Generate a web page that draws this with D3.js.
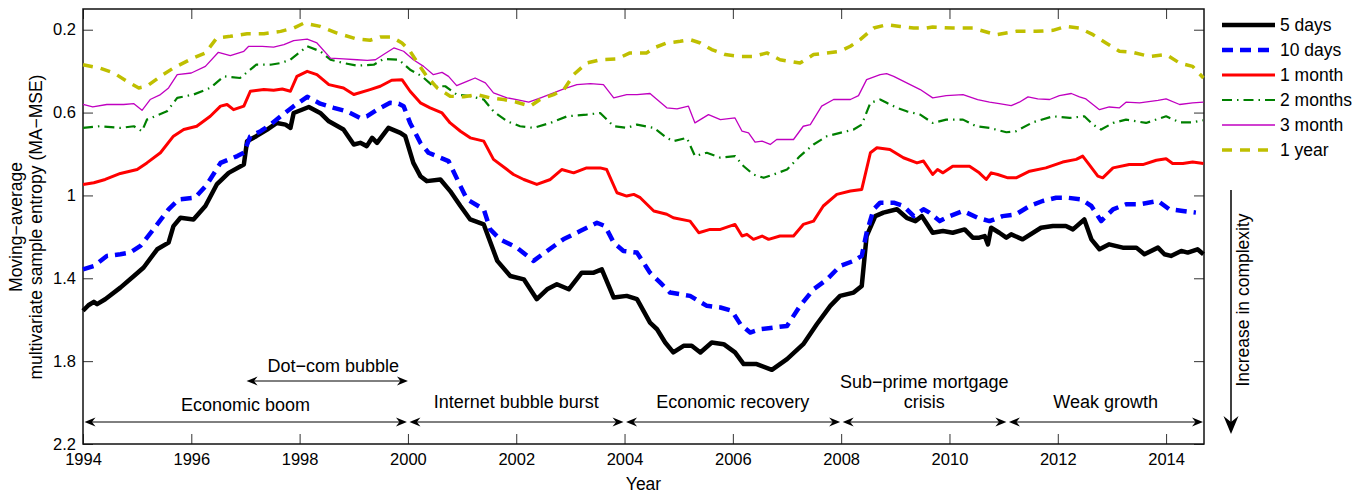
<!DOCTYPE html>
<meta charset="utf-8">
<style>
  body { margin: 0; background: #fff; }
  text { font-family: "Liberation Sans", Arial, sans-serif; fill: #000; }
</style>
<svg width="1369" height="495"></svg>
<script src="https://d3js.org/d3.v7.min.js"></script>
<script>

// [year, MA-MSE]
var fiveDays = [[1994.0,1.557],[1994.1,1.53],[1994.2,1.514],[1994.26,1.525],[1994.41,1.501],[1994.69,1.445],[1994.94,1.389],
  [1995.12,1.348],[1995.37,1.26],[1995.58,1.228],[1995.67,1.148],[1995.8,1.108],[1996.04,1.116],[1996.26,1.051],
  [1996.47,0.947],[1996.69,0.891],[1996.97,0.851],[1997.03,0.738],[1997.2,0.714],[1997.4,0.682],[1997.58,0.65],
  [1997.74,0.658],[1997.83,0.674],[1997.89,0.602],[1998.17,0.573],[1998.38,0.602],[1998.54,0.642],[1998.81,0.682],
  [1999.0,0.754],[1999.12,0.746],[1999.24,0.762],[1999.34,0.722],[1999.43,0.746],[1999.64,0.674],[1999.86,0.698],
  [1999.95,0.714],[2000.1,0.843],[2000.23,0.907],[2000.35,0.931],[2000.6,0.923],[2000.78,0.979],[2000.97,1.051],
  [2001.15,1.116],[2001.4,1.14],[2001.65,1.316],[2001.89,1.389],[2002.14,1.405],[2002.38,1.501],[2002.57,1.453],
  [2002.75,1.429],[2002.97,1.453],[2003.21,1.373],[2003.43,1.373],[2003.58,1.357],[2003.8,1.493],[2004.04,1.485],
  [2004.23,1.501],[2004.47,1.614],[2004.6,1.646],[2004.75,1.71],[2004.9,1.758],[2005.09,1.726],[2005.24,1.726],
  [2005.4,1.758],[2005.61,1.71],[2005.83,1.718],[2006.04,1.758],[2006.2,1.814],[2006.44,1.814],[2006.72,1.842],
  [2007.0,1.79],[2007.3,1.718],[2007.55,1.622],[2007.8,1.533],[2007.98,1.485],[2008.23,1.469],[2008.38,1.437],
  [2008.47,1.196],[2008.63,1.1],[2008.78,1.083],[2009.03,1.067],[2009.21,1.108],[2009.37,1.124],[2009.49,1.1],
  [2009.57,1.132],[2009.69,1.18],[2009.88,1.172],[2010.06,1.18],[2010.28,1.164],[2010.43,1.204],[2010.55,1.204],
  [2010.65,1.196],[2010.71,1.236],[2010.77,1.156],[2010.92,1.18],[2011.05,1.204],[2011.14,1.188],[2011.35,1.212],
  [2011.69,1.156],[2011.91,1.148],[2012.15,1.148],[2012.28,1.164],[2012.49,1.116],[2012.62,1.212],[2012.77,1.26],
  [2012.95,1.236],[2013.2,1.252],[2013.45,1.252],[2013.6,1.284],[2013.85,1.252],[2013.97,1.284],[2014.09,1.292],
  [2014.28,1.268],[2014.4,1.276],[2014.58,1.26],[2014.69,1.284]];

var tenDays = [[1994.0,1.357],[1994.2,1.341],[1994.44,1.292],[1994.69,1.284],[1994.87,1.276],[1995.06,1.244],
  [1995.3,1.164],[1995.58,1.067],[1995.77,1.019],[1996.07,1.011],[1996.29,0.947],[1996.54,0.843],[1996.85,0.81],
  [1996.97,0.794],[1997.09,0.714],[1997.28,0.69],[1997.46,0.658],[1997.65,0.618],[1997.89,0.569],[1998.14,0.524],
  [1998.38,0.557],[1998.63,0.577],[1998.87,0.594],[1999.12,0.626],[1999.24,0.618],[1999.43,0.586],[1999.67,0.553],
  [1999.83,0.557],[1999.92,0.569],[2000.04,0.65],[2000.23,0.746],[2000.38,0.794],[2000.6,0.818],[2000.75,0.834],
  [2000.97,0.955],[2001.09,1.019],[2001.4,1.067],[2001.52,1.164],[2001.7,1.212],[2002.01,1.252],[2002.32,1.316],
  [2002.57,1.268],[2002.87,1.212],[2003.18,1.172],[2003.49,1.132],[2003.64,1.148],[2003.8,1.228],[2003.98,1.268],
  [2004.23,1.276],[2004.47,1.373],[2004.66,1.421],[2004.84,1.469],[2005.21,1.485],[2005.52,1.533],[2005.77,1.541],
  [2005.98,1.557],[2006.14,1.622],[2006.32,1.662],[2006.5,1.646],[2006.75,1.638],[2007.0,1.63],[2007.24,1.533],
  [2007.49,1.453],[2007.74,1.405],[2007.98,1.341],[2008.23,1.316],[2008.38,1.292],[2008.47,1.18],[2008.6,1.067],
  [2008.72,1.035],[2008.97,1.035],[2009.15,1.051],[2009.34,1.1],[2009.52,1.067],[2009.63,1.083],[2009.82,1.124],
  [2010.0,1.1],[2010.25,1.075],[2010.52,1.108],[2010.74,1.124],[2010.98,1.1],[2011.23,1.091],[2011.48,1.051],
  [2011.72,1.027],[2011.97,1.011],[2012.18,1.011],[2012.43,1.019],[2012.62,1.051],[2012.8,1.124],[2013.02,1.067],
  [2013.26,1.043],[2013.51,1.043],[2013.85,1.027],[2014.06,1.067],[2014.31,1.075],[2014.55,1.083]];

var oneMonth = [[1994.0,0.947],[1994.2,0.939],[1994.41,0.923],[1994.69,0.894],[1995.0,0.875],[1995.18,0.843],
  [1995.43,0.794],[1995.67,0.714],[1995.86,0.682],[1996.1,0.666],[1996.35,0.618],[1996.54,0.569],[1996.66,0.561],
  [1996.78,0.586],[1996.97,0.569],[1997.09,0.497],[1997.34,0.489],[1997.52,0.492],[1997.68,0.486],[1997.83,0.497],
  [1997.95,0.425],[1998.14,0.401],[1998.32,0.417],[1998.54,0.465],[1998.81,0.481],[1999.0,0.513],[1999.3,0.489],
  [1999.49,0.473],[1999.7,0.444],[1999.89,0.441],[2000.04,0.497],[2000.23,0.553],[2000.41,0.577],[2000.63,0.602],
  [2000.78,0.65],[2000.97,0.69],[2001.15,0.722],[2001.4,0.738],[2001.58,0.826],[2001.83,0.875],[2001.95,0.899],
  [2002.14,0.923],[2002.38,0.947],[2002.63,0.923],[2002.84,0.875],[2003.06,0.891],[2003.3,0.867],[2003.55,0.867],
  [2003.67,0.875],[2003.86,0.987],[2004.04,1.003],[2004.17,0.995],[2004.29,1.011],[2004.54,1.075],[2004.78,1.091],
  [2004.9,1.108],[2005.21,1.124],[2005.37,1.18],[2005.58,1.164],[2005.77,1.164],[2006.04,1.14],[2006.17,1.196],
  [2006.26,1.188],[2006.38,1.212],[2006.54,1.196],[2006.66,1.212],[2006.87,1.196],[2007.12,1.196],[2007.3,1.14],
  [2007.49,1.124],[2007.67,1.051],[2007.92,0.995],[2008.17,0.979],[2008.38,0.971],[2008.54,0.794],[2008.66,0.77],
  [2008.9,0.778],[2009.15,0.818],[2009.4,0.843],[2009.52,0.834],[2009.69,0.899],[2009.78,0.875],[2009.88,0.891],
  [2010.06,0.859],[2010.37,0.859],[2010.55,0.891],[2010.68,0.923],[2010.77,0.891],[2010.89,0.899],[2011.08,0.915],
  [2011.23,0.915],[2011.48,0.883],[2011.78,0.867],[2012.09,0.839],[2012.34,0.826],[2012.46,0.81],[2012.58,0.851],
  [2012.74,0.907],[2012.83,0.915],[2013.02,0.867],[2013.32,0.851],[2013.57,0.851],[2013.82,0.83],[2014.0,0.823],
  [2014.12,0.846],[2014.31,0.846],[2014.49,0.839],[2014.69,0.846]];

var twoMonths = [[1994.0,0.674],[1994.31,0.666],[1994.69,0.674],[1994.94,0.666],[1995.09,0.69],[1995.18,0.634],
  [1995.55,0.594],[1995.74,0.529],[1996.04,0.513],[1996.35,0.481],[1996.6,0.425],[1996.9,0.433],[1997.2,0.369],
  [1997.46,0.369],[1997.65,0.361],[1997.83,0.345],[1998.14,0.28],[1998.38,0.304],[1998.57,0.345],[1998.81,0.361],
  [1999.06,0.373],[1999.37,0.369],[1999.55,0.341],[1999.83,0.345],[2000.04,0.393],[2000.26,0.425],[2000.47,0.473],
  [2000.69,0.473],[2000.9,0.513],[2001.15,0.521],[2001.4,0.537],[2001.58,0.594],[2001.83,0.642],[2002.07,0.666],
  [2002.32,0.674],[2002.63,0.65],[2002.94,0.618],[2003.3,0.61],[2003.55,0.602],[2003.8,0.666],[2004.04,0.674],
  [2004.23,0.658],[2004.54,0.674],[2004.78,0.722],[2004.9,0.738],[2005.15,0.722],[2005.3,0.81],[2005.52,0.794],
  [2005.77,0.818],[2006.04,0.81],[2006.2,0.859],[2006.38,0.899],[2006.57,0.915],[2006.75,0.899],[2007.0,0.875],
  [2007.24,0.81],[2007.49,0.754],[2007.74,0.714],[2007.98,0.698],[2008.23,0.682],[2008.38,0.658],[2008.54,0.553],
  [2008.72,0.537],[2008.84,0.553],[2009.03,0.577],[2009.21,0.594],[2009.46,0.61],[2009.69,0.65],[2009.94,0.634],
  [2010.25,0.634],[2010.49,0.666],[2010.74,0.674],[2011.05,0.695],[2011.23,0.69],[2011.54,0.647],[2011.91,0.618],
  [2012.22,0.626],[2012.49,0.618],[2012.65,0.658],[2012.8,0.682],[2013.02,0.65],[2013.26,0.634],[2013.63,0.65],
  [2014.0,0.618],[2014.25,0.647],[2014.49,0.647],[2014.68,0.637]];

var threeMonth = [[1994.0,0.561],[1994.18,0.573],[1994.44,0.561],[1994.75,0.561],[1994.94,0.557],[1995.09,0.589],
  [1995.24,0.537],[1995.43,0.513],[1995.58,0.481],[1995.74,0.417],[1996.0,0.409],[1996.26,0.377],[1996.5,0.309],
  [1996.72,0.325],[1996.97,0.304],[1997.06,0.28],[1997.31,0.28],[1997.52,0.284],[1997.71,0.272],[1997.89,0.253],
  [1998.14,0.245],[1998.32,0.264],[1998.57,0.337],[1998.81,0.341],[1999.06,0.345],[1999.25,0.348],[1999.4,0.345],
  [1999.55,0.32],[1999.74,0.288],[1999.92,0.304],[2000.1,0.345],[2000.29,0.377],[2000.47,0.417],[2000.63,0.406],
  [2000.75,0.425],[2000.9,0.47],[2001.09,0.449],[2001.24,0.433],[2001.43,0.457],[2001.58,0.505],[2001.83,0.529],
  [2002.01,0.537],[2002.23,0.55],[2002.45,0.529],[2002.69,0.505],[2002.88,0.486],[2003.12,0.465],[2003.37,0.46],
  [2003.61,0.465],[2003.8,0.529],[2004.04,0.513],[2004.23,0.513],[2004.47,0.508],[2004.6,0.537],[2004.78,0.577],
  [2004.97,0.582],[2005.18,0.569],[2005.3,0.65],[2005.55,0.61],[2005.77,0.634],[2006.04,0.626],[2006.17,0.69],
  [2006.29,0.698],[2006.41,0.743],[2006.54,0.738],[2006.69,0.754],[2006.81,0.73],[2007.12,0.73],[2007.3,0.666],
  [2007.43,0.658],[2007.64,0.569],[2007.86,0.537],[2008.17,0.537],[2008.32,0.518],[2008.47,0.441],[2008.72,0.417],
  [2008.84,0.412],[2008.97,0.425],[2009.21,0.457],[2009.46,0.489],[2009.69,0.529],[2009.94,0.518],[2010.25,0.513],
  [2010.52,0.537],[2010.74,0.55],[2010.92,0.557],[2011.14,0.566],[2011.29,0.55],[2011.45,0.524],[2011.63,0.534],
  [2011.85,0.537],[2012.03,0.518],[2012.25,0.508],[2012.4,0.524],[2012.52,0.534],[2012.77,0.586],[2012.95,0.573],
  [2013.14,0.577],[2013.26,0.55],[2013.51,0.553],[2013.85,0.541],[2014.0,0.534],[2014.25,0.561],[2014.49,0.553],
  [2014.69,0.55]];

var oneYear = [[1994.0,0.369],[1994.31,0.385],[1994.57,0.409],[1994.81,0.449],[1995.03,0.481],[1995.18,0.473],
  [1995.43,0.425],[1995.67,0.385],[1996.0,0.341],[1996.26,0.312],[1996.47,0.24],[1996.72,0.232],[1997.03,0.219],
  [1997.34,0.219],[1997.65,0.208],[1997.89,0.192],[1998.08,0.168],[1998.38,0.184],[1998.69,0.216],[1999.06,0.245],
  [1999.3,0.251],[1999.49,0.235],[1999.7,0.235],[1999.89,0.264],[2000.04,0.304],[2000.2,0.369],[2000.35,0.425],
  [2000.54,0.481],[2000.78,0.521],[2001.03,0.524],[2001.27,0.513],[2001.52,0.529],[2001.77,0.537],[2002.01,0.55],
  [2002.26,0.569],[2002.44,0.537],[2002.69,0.513],[2002.88,0.489],[2003.06,0.417],[2003.3,0.361],[2003.55,0.345],
  [2003.86,0.341],[2004.1,0.312],[2004.41,0.312],[2004.54,0.288],[2004.78,0.264],[2005.03,0.256],[2005.21,0.248],
  [2005.4,0.264],[2005.61,0.296],[2005.86,0.32],[2006.14,0.329],[2006.38,0.329],[2006.63,0.312],[2006.87,0.345],
  [2007.24,0.361],[2007.49,0.32],[2007.74,0.312],[2007.98,0.304],[2008.17,0.28],[2008.35,0.248],[2008.6,0.192],
  [2008.84,0.176],[2009.09,0.184],[2009.34,0.192],[2009.58,0.192],[2009.69,0.187],[2010.06,0.192],[2010.43,0.192],
  [2010.86,0.224],[2011.23,0.208],[2011.6,0.208],[2011.91,0.203],[2012.15,0.184],[2012.4,0.192],[2012.65,0.224],
  [2012.89,0.264],[2013.14,0.304],[2013.38,0.309],[2013.69,0.329],[2014.0,0.32],[2014.25,0.361],[2014.49,0.377],
  [2014.69,0.433]];

var seriesNames = ["5 days", "10 days", "1 month", "2 months", "3 month", "1 year"];
var xTicks = [1994, 1996, 1998, 2000, 2002, 2004, 2006, 2008, 2010, 2012, 2014];
var yTicks = [0.2, 0.6, 1, 1.4, 1.8, 2.2];

var periodStarts = [1994, 2000, 2004, 2008, 2011.07];
var periodEnds = [2000, 2004, 2008, 2011.07, 2014.7];
var periodLabels = [["Economic boom"], ["Internet bubble burst"], ["Economic recovery"],
  ["Sub\u2212prime mortgage", "crisis"], ["Weak growth"]];
var bubbleSpan = [1997.02, 2000];
var bubbleLabel = "Dot\u2212com bubble";

var allSeries = [fiveDays, tenDays, oneMonth, twoMonths, threeMonth, oneYear];
var colors = ["#000000", "#0000ff", "#ff0000", "#008000", "#c000c0", "#bfbf00"];
var widths = [4.5, 4.5, 3, 2.2, 1.3, 3.5];
var dashes = [null, "11,7", null, "10,5,1.5,5", null, "10,8"];

var svg = d3.select("svg");
var x0 = 83, x1 = 1204, y0 = 9, y1 = 444;

var x = d3.scaleLinear().domain([1994, 2014.7]).range([x0, x1]);
var y = d3.scaleLinear().domain([0.1, 2.2]).range([y0, y1]);

// axes, ticks inside like matlab
var bottom = svg.append("g").attr("transform", "translate(0," + y1 + ")")
    .call(d3.axisBottom(x).tickValues(xTicks).tickSize(-10).tickSizeOuter(0).tickPadding(9).tickFormat(d3.format("d")));
var left = svg.append("g").attr("transform", "translate(" + x0 + ",0)")
    .call(d3.axisLeft(y).tickValues(yTicks).tickSize(-10).tickSizeOuter(0).tickPadding(7).tickFormat(function (d) { return String(d); }));
svg.append("g").attr("transform", "translate(0," + y0 + ")")
    .call(d3.axisTop(x).tickValues(xTicks).tickSize(-10).tickSizeOuter(0).tickFormat(""));
svg.append("g").attr("transform", "translate(" + x1 + ",0)")
    .call(d3.axisRight(y).tickValues(yTicks).tickSize(-10).tickSizeOuter(0).tickFormat(""));

svg.selectAll(".domain").remove();
svg.selectAll(".tick line").attr("stroke", "#333").attr("stroke-width", 1);
svg.selectAll(".tick text").attr("font-size", "16.5px").attr("font-family", "Liberation Sans, Arial, sans-serif").attr("fill", "#000");

svg.append("rect")
    .attr("x", x0).attr("y", y0).attr("width", x1 - x0).attr("height", y1 - y0)
    .attr("fill", "none").attr("stroke", "#111").attr("stroke-width", 1.5);

// series
var line = d3.line()
    .x(function (d) { return x(d[0]); })
    .y(function (d) { return y(d[1]); });

allSeries.forEach(function (s, i) {
    svg.append("path")
        .datum(s)
        .attr("d", line)
        .attr("fill", "none")
        .attr("stroke", colors[i])
        .attr("stroke-width", widths[i])
        .attr("stroke-linejoin", "round")
        .attr("stroke-dasharray", dashes[i]);
});

// legend
seriesNames.forEach(function (name, i) {
    var ly = 25 + 25 * i;
    svg.append("line")
        .attr("x1", 1222).attr("x2", 1275).attr("y1", ly).attr("y2", ly)
        .attr("stroke", colors[i]).attr("stroke-width", widths[i])
        .attr("stroke-dasharray", dashes[i]);
    svg.append("text")
        .attr("x", 1280).attr("y", ly).attr("dy", "0.35em")
        .attr("font-size", "17.5px")
        .text(name);
});

// arrow heads
function head(tx, ty, angle, len, half, notch) {
    svg.append("path")
        .attr("d", "M0,0L" + (-len) + "," + (-half) + "L" + (-len + notch) + ",0L" + (-len) + "," + half + "Z")
        .attr("transform", "translate(" + tx + "," + ty + ") rotate(" + angle + ")")
        .attr("fill", "#000");
}

function doubleArrow(xa, xb, yy) {
    svg.append("line")
        .attr("x1", xa + 4).attr("x2", xb - 4).attr("y1", yy).attr("y2", yy)
        .attr("stroke", "#000").attr("stroke-width", 1);
    head(xa, yy, 180, 11, 4.5, 3.5);
    head(xb, yy, 0, 11, 4.5, 3.5);
}

var arrowY = 422;
periodStarts.forEach(function (st, i) {
    var xa = x(st) + 1.5, xb = x(periodEnds[i]) - 1;
    doubleArrow(xa, xb, arrowY);
    var cx = (x(st) + x(periodEnds[i])) / 2;
    var lines = periodLabels[i];
    var base = i === 0 ? 411 : 408;
    lines.forEach(function (t, j) {
        svg.append("text")
            .attr("x", cx).attr("y", base - (lines.length - 1 - j) * 20)
            .attr("text-anchor", "middle")
            .attr("font-size", "18px")
            .text(t);
    });
});

doubleArrow(x(bubbleSpan[0]), x(bubbleSpan[1]), 381);
svg.append("text")
    .attr("x", (x(bubbleSpan[0]) + x(bubbleSpan[1])) / 2 + 6).attr("y", 372)
    .attr("text-anchor", "middle")
    .attr("font-size", "18px")
    .text(bubbleLabel);

// complexity arrow
svg.append("line")
    .attr("x1", 1231).attr("x2", 1231).attr("y1", 190).attr("y2", 425)
    .attr("stroke", "#000").attr("stroke-width", 1.5);
head(1231, 434, 90, 18, 7.5, 6);
svg.append("text")
    .attr("transform", "translate(1249,300) rotate(-90)")
    .attr("text-anchor", "middle")
    .attr("font-size", "17.5px")
    .text("Increase in complexity");

// axis labels
svg.append("text")
    .attr("x", (x0 + x1) / 2).attr("y", 490)
    .attr("text-anchor", "middle")
    .attr("font-size", "17.5px")
    .text("Year");

var yl = svg.append("text")
    .attr("transform", "translate(22,227) rotate(-90)")
    .attr("text-anchor", "middle")
    .attr("font-size", "17.5px");
yl.append("tspan").attr("x", 0).attr("y", 0).text("Moving\u2212average");
yl.append("tspan").attr("x", 0).attr("y", 20).text("multivariate sample entropy (MA\u2212MSE)");

</script>
